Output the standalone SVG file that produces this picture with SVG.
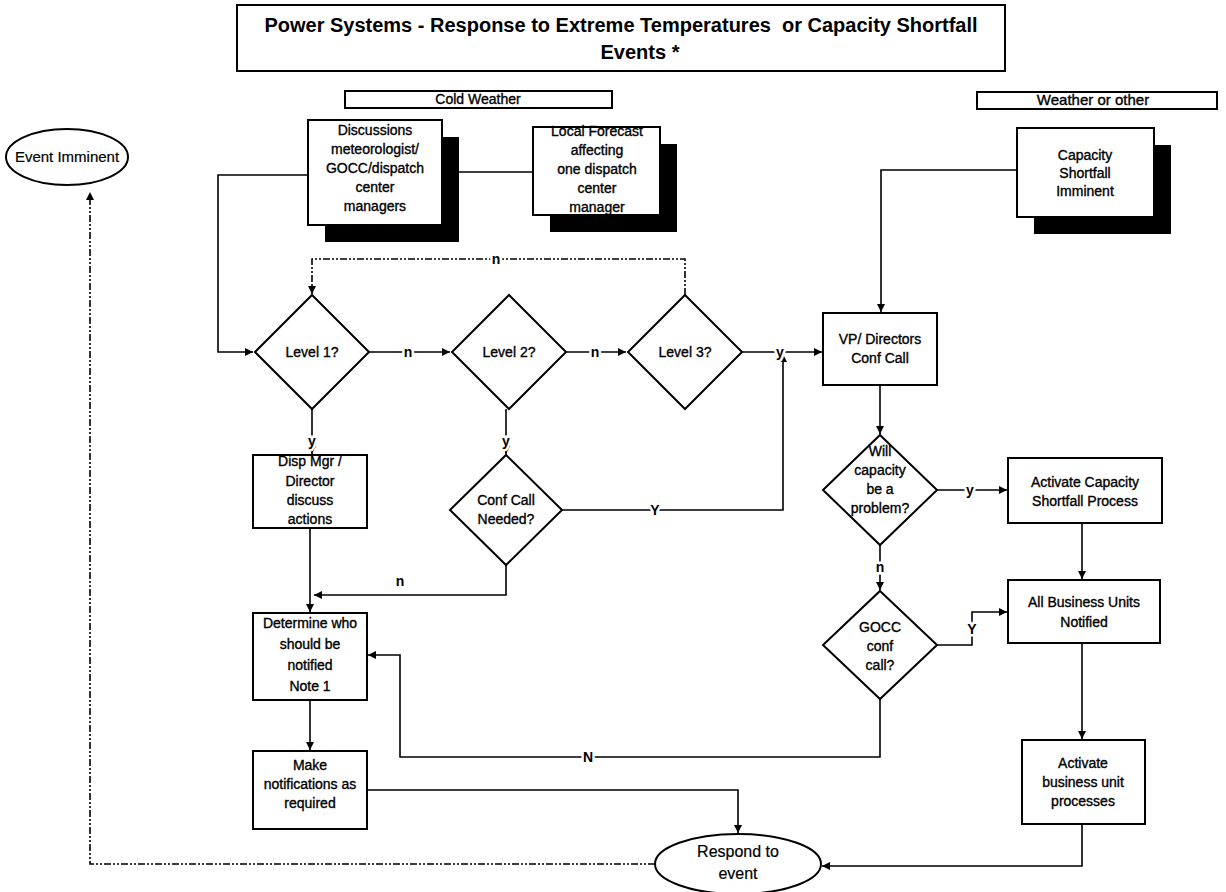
<svg xmlns="http://www.w3.org/2000/svg" width="1226" height="892" viewBox="0 0 1226 892">
<style>
.bg{fill:#fff}
.box{fill:#fff;stroke:#000;stroke-width:2}
.sh{fill:#000}
.ln{fill:none;stroke:#000;stroke-width:1.6}
.dd{fill:none;stroke:#000;stroke-width:1.6;stroke-dasharray:7 2 2 2 2 2}
.t{font-family:"Liberation Sans",Arial,sans-serif;font-size:14px;text-anchor:middle;fill:#000;stroke:#000;stroke-width:0.35px}
.ti{font-family:"Liberation Sans",Arial,sans-serif;font-size:20px;font-weight:bold;text-anchor:middle;fill:#000;white-space:pre}
.lb{font-family:"Liberation Sans",Arial,sans-serif;font-size:14px;font-weight:bold;text-anchor:middle;fill:#000;paint-order:stroke;stroke:#fff;stroke-width:5px}
</style>
<defs>
<marker id="ah" viewBox="0 0 10 10" refX="10" refY="5" markerWidth="8" markerHeight="8" markerUnits="userSpaceOnUse" orient="auto">
<path d="M0,0 L10,5 L0,10 z" fill="#000"/>
</marker>
</defs>
<rect class="bg" x="0" y="0" width="1226" height="892"/>

<g id="title">
<rect class="box" x="237" y="5" width="768" height="66"/>
<text class="ti" x="621" y="32">Power Systems - Response to Extreme Temperatures  or Capacity Shortfall</text>
<text class="ti" x="640" y="59">Events *</text>
</g>
<g id="cold-weather">
<rect class="box" x="345" y="91" width="267" height="17"/>
<text class="t" x="478" y="104">Cold Weather</text>
</g>
<g id="weather-other">
<rect class="box" x="977" y="92" width="240" height="17"/>
<text class="t" x="1093" y="105" style="font-size:15px">Weather or other</text>
</g>

<g id="connectors">
<polyline class="ln" points="308,175 218,175 218,352 253,352" marker-end="url(#ah)"/>
<line class="ln" x1="457" y1="172" x2="533" y2="172"/>
<polyline class="dd" points="685,295 685,259 312,259 312,294" marker-end="url(#ah)"/>
<line class="ln" x1="369" y1="352" x2="450" y2="352" marker-end="url(#ah)"/>
<line class="ln" x1="566" y1="352" x2="626" y2="352" marker-end="url(#ah)"/>
<line class="ln" x1="742" y1="352" x2="822" y2="352" marker-end="url(#ah)"/>
<polyline class="ln" points="1017,170 881,170 881,312" marker-end="url(#ah)"/>
<line class="ln" x1="312" y1="409" x2="312" y2="454" marker-end="url(#ah)"/>
<line class="ln" x1="506" y1="409" x2="506" y2="454" marker-end="url(#ah)"/>
<polyline class="ln" points="562,510 783,510 783,354" marker-end="url(#ah)"/>
<polyline class="ln" points="506,565 506,595 314,595" marker-end="url(#ah)"/>
<line class="ln" x1="310" y1="528" x2="310" y2="612" marker-end="url(#ah)"/>
<line class="ln" x1="310" y1="700" x2="310" y2="750" marker-end="url(#ah)"/>
<line class="ln" x1="880" y1="385" x2="880" y2="434" marker-end="url(#ah)"/>
<line class="ln" x1="937" y1="490" x2="1007" y2="490" marker-end="url(#ah)"/>
<line class="ln" x1="880" y1="545" x2="880" y2="590" marker-end="url(#ah)"/>
<polyline class="ln" points="937,645 972,645 972,612 1007,612" marker-end="url(#ah)"/>
<polyline class="ln" points="880,699 880,757 400,757 400,655 368,655" marker-end="url(#ah)"/>
<line class="ln" x1="1082" y1="523" x2="1082" y2="579" marker-end="url(#ah)"/>
<line class="ln" x1="1082" y1="643" x2="1082" y2="739" marker-end="url(#ah)"/>
<polyline class="ln" points="1082,824 1082,866 822,866" marker-end="url(#ah)"/>
<polyline class="ln" points="367,790 738,790 738,833" marker-end="url(#ah)"/>
<polyline class="dd" points="655,864 90,864 90,192" marker-end="url(#ah)"/>
<text class="lb" x="496" y="264">n</text>
<text class="lb" x="408" y="357">n</text>
<text class="lb" x="595" y="357">n</text>
<text class="lb" x="780" y="357">y</text>
<text class="lb" x="312" y="446">y</text>
<text class="lb" x="506" y="446">y</text>
<text class="lb" x="655" y="515">Y</text>
<text class="lb" x="400" y="586">n</text>
<text class="lb" x="970" y="495">y</text>
<text class="lb" x="880" y="572">n</text>
<text class="lb" x="972" y="634">Y</text>
<text class="lb" x="588" y="762">N</text>
</g>

<g id="event-imminent">
<ellipse class="box" cx="67" cy="157" rx="61" ry="28"/>
<text class="t" x="67" y="162" style="font-size:15px;stroke-width:0.2px">Event Imminent</text>
</g>
<g id="discussions">
<rect class="sh" x="325" y="137" width="134" height="105"/>
<rect class="box" x="308" y="120" width="134" height="105"/>
<text class="t" x="375" y="135">Discussions</text>
<text class="t" x="375" y="154">meteorologist/</text>
<text class="t" x="375" y="173">GOCC/dispatch</text>
<text class="t" x="375" y="192">center</text>
<text class="t" x="375" y="211">managers</text>
</g>
<g id="local-forecast">
<rect class="sh" x="550" y="144" width="127" height="88"/>
<rect class="box" x="533" y="127" width="127" height="88"/>
<text class="t" x="597" y="136">Local Forecast</text>
<text class="t" x="597" y="155">affecting</text>
<text class="t" x="597" y="174">one dispatch</text>
<text class="t" x="597" y="193">center</text>
<text class="t" x="597" y="212">manager</text>
</g>
<g id="capacity-imminent">
<rect class="sh" x="1034" y="145" width="137" height="89"/>
<rect class="box" x="1017" y="128" width="137" height="89"/>
<text class="t" x="1085" y="160">Capacity</text>
<text class="t" x="1085" y="178">Shortfall</text>
<text class="t" x="1085" y="196">Imminent</text>
</g>
<g id="level1">
<polygon class="box" points="312,295 369,352 312,409 255,352"/>
<text class="t" x="312" y="357">Level 1?</text>
</g>
<g id="level2">
<polygon class="box" points="509,295 566,352 509,409 452,352"/>
<text class="t" x="509" y="357">Level 2?</text>
</g>
<g id="level3">
<polygon class="box" points="685,295 742,352 685,409 628,352"/>
<text class="t" x="685" y="357">Level 3?</text>
</g>
<g id="vp-call">
<rect class="box" x="823" y="313" width="114" height="72"/>
<text class="t" x="880" y="344">VP/ Directors</text>
<text class="t" x="880" y="363">Conf Call</text>
</g>
<g id="disp-mgr">
<rect class="box" x="253" y="455" width="114" height="73"/>
<text class="t" x="310" y="466">Disp Mgr /</text>
<text class="t" x="310" y="486">Director</text>
<text class="t" x="310" y="505">discuss</text>
<text class="t" x="310" y="524">actions</text>
</g>
<g id="conf-needed">
<polygon class="box" points="506,455 562,510 506,565 450,510"/>
<text class="t" x="506" y="505">Conf Call</text>
<text class="t" x="506" y="524">Needed?</text>
</g>
<g id="will-capacity">
<polygon class="box" points="880,435 937,490 880,545 823,490"/>
<text class="t" x="880" y="456">Will</text>
<text class="t" x="880" y="475">capacity</text>
<text class="t" x="880" y="494">be a</text>
<text class="t" x="880" y="513">problem?</text>
</g>
<g id="activate-capacity">
<rect class="box" x="1008" y="458" width="154" height="65"/>
<text class="t" x="1085" y="487">Activate Capacity</text>
<text class="t" x="1085" y="506">Shortfall Process</text>
</g>
<g id="gocc">
<polygon class="box" points="880,591 937,645 880,699 823,645"/>
<text class="t" x="880" y="632">GOCC</text>
<text class="t" x="880" y="651">conf</text>
<text class="t" x="880" y="670">call?</text>
</g>
<g id="all-units">
<rect class="box" x="1008" y="580" width="152" height="63"/>
<text class="t" x="1084" y="607">All Business Units</text>
<text class="t" x="1084" y="627">Notified</text>
</g>
<g id="determine">
<rect class="box" x="253" y="613" width="114" height="87"/>
<text class="t" x="310" y="628">Determine who</text>
<text class="t" x="310" y="649">should be</text>
<text class="t" x="310" y="670">notified</text>
<text class="t" x="310" y="691">Note 1</text>
</g>
<g id="make-notifications">
<rect class="box" x="253" y="751" width="114" height="78"/>
<text class="t" x="310" y="770">Make</text>
<text class="t" x="310" y="789">notifications as</text>
<text class="t" x="310" y="808">required</text>
</g>
<g id="activate-units">
<rect class="box" x="1022" y="740" width="123" height="84"/>
<text class="t" x="1083" y="768">Activate</text>
<text class="t" x="1083" y="787">business unit</text>
<text class="t" x="1083" y="806">processes</text>
</g>
<g id="respond">
<ellipse class="box" cx="738" cy="864" rx="83" ry="30"/>
<text class="t" x="738" y="857" style="font-size:16px;stroke-width:0.2px">Respond to</text>
<text class="t" x="738" y="879" style="font-size:16px;stroke-width:0.2px">event</text>
</g>
</svg>
